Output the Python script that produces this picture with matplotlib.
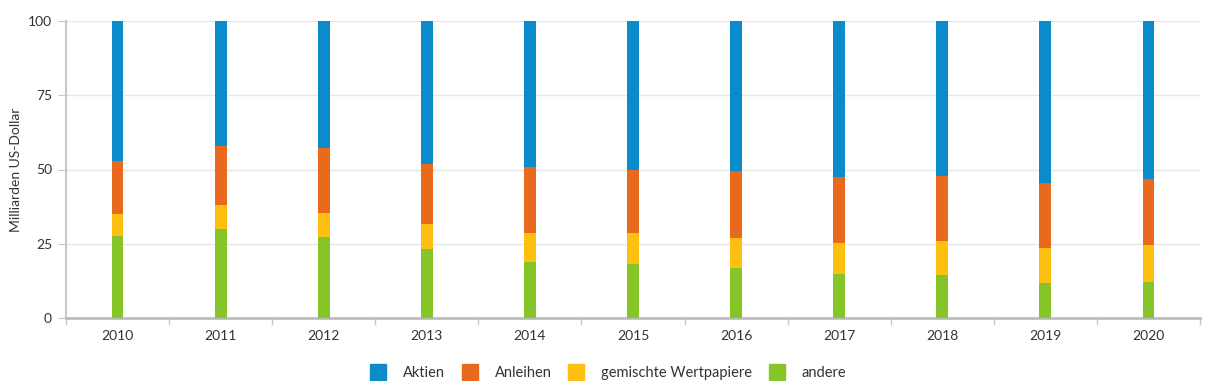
import numpy as np
import matplotlib
matplotlib.use('Agg')
import matplotlib.pyplot as plt
from matplotlib.lines import Line2D

plt.rcParams['font.family'] = ['Lato', 'DejaVu Sans']

years = ['2010', '2011', '2012', '2013', '2014', '2015', '2016', '2017', '2018', '2019', '2020']
series = ['Aktien', 'Anleihen', 'gemischte Wertpapiere', 'andere']

# stacked from the bottom: andere, gemischte, Anleihen, Aktien
andere = [27.6, 29.9, 27.2, 23.3, 18.8, 18.1, 16.8, 14.8, 14.4, 11.7, 12.0]
gemischte = [7.3, 8.0, 8.3, 8.2, 9.7, 10.4, 10.0, 10.6, 11.5, 11.8, 12.5]
anleihen = [18.0, 19.9, 21.6, 20.5, 22.5, 21.4, 22.7, 22.2, 22.0, 21.8, 22.4]
aktien = [47.1, 42.2, 42.9, 48.0, 49.0, 50.1, 50.5, 52.4, 52.1, 54.7, 53.1]

colors = {'Aktien': '#0a8bcc', 'Anleihen': '#e96a1c', 'gemischte Wertpapiere': '#fdbf10', 'andere': '#86c528'}

fig = plt.figure(figsize=(12.1, 3.81), dpi=100)
ax = fig.add_axes([66/1210, 1 - 318/381, (1200 - 66)/1210, (318 - 21)/381])

x = np.arange(len(years))
w = 0.115
bottom = np.zeros(len(years))
for name, vals in [('andere', andere), ('gemischte Wertpapiere', gemischte),
                   ('Anleihen', anleihen), ('Aktien', aktien)]:
    ax.bar(x, vals, w, bottom=bottom, color=colors[name], zorder=3, linewidth=0)
    bottom += np.array(vals)

ax.set_xlim(-0.5, len(years) - 0.5)
ax.set_ylim(0, 100)
ax.set_yticks([0, 25, 50, 75, 100])
ax.set_xticks(x)
ax.set_xticklabels(years)
ax.set_xticks(np.arange(-0.5, len(years)), minor=True)
ax.tick_params(axis='x', which='major', length=0, pad=9, labelsize=10, labelcolor='#333333')
ax.tick_params(axis='x', which='minor', length=5, color='#c8c8c8', width=1)
ax.tick_params(axis='y', length=6, color='#c8c8c8', pad=4, labelsize=10, labelcolor='#333333')
ax.grid(axis='y', color='#e6e6e6', linewidth=1, zorder=0)

for s in ['top', 'right']:
    ax.spines[s].set_visible(False)
ax.spines['left'].set_color('#c8c8c8')
ax.spines['left'].set_linewidth(1.5)
ax.spines['bottom'].set_color('#bdbdbd')
ax.spines['bottom'].set_linewidth(2)

ax.set_ylabel('Milliarden US-Dollar', fontsize=10, color='#333333', labelpad=4)

handles = [Line2D([], [], marker='s', linestyle='none', markersize=11,
                  markerfacecolor=colors[n], markeredgecolor=colors[n]) for n in series]
fig.legend(handles, series, loc='center', bbox_to_anchor=(0.5, 8/381), ncol=4,
           frameon=False, fontsize=10.5, handletextpad=0.7, columnspacing=0.7,
           labelcolor='#333333')

fig.savefig('out.png', dpi=100)
